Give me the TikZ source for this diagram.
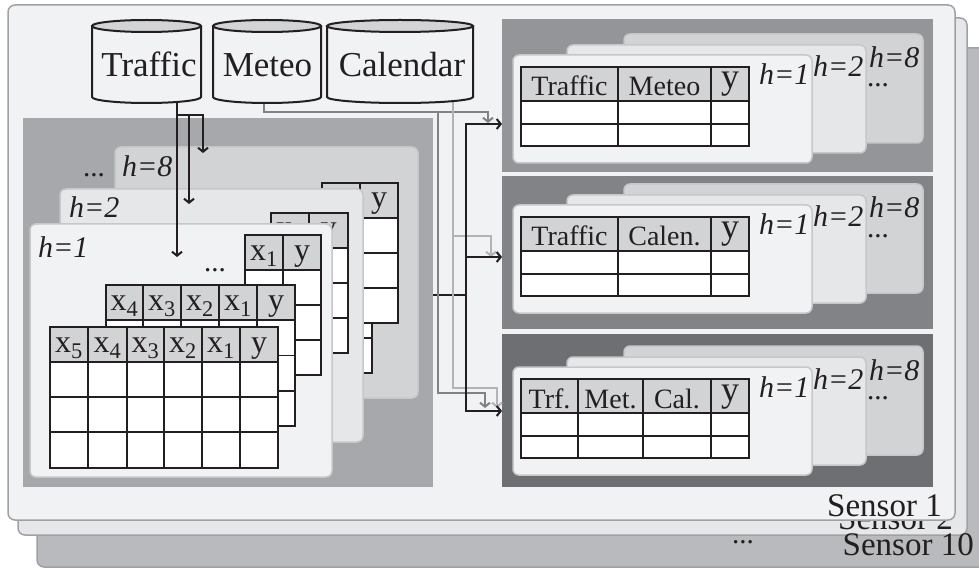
\documentclass[tikz,border=0pt]{standalone}
\usepackage{fontspec}
\setmainfont{Liberation Serif}
\usetikzlibrary{arrows.meta}
\definecolor{ink}{HTML}{231F20}
\definecolor{bgone}{HTML}{F1F2F4}
\definecolor{bgtwo}{HTML}{E6E7E9}
\definecolor{bgten}{HTML}{B9BABD}
\definecolor{sensline}{HTML}{A0A1A4}
\definecolor{lregcol}{HTML}{A7A8AB}
\definecolor{cardeight}{HTML}{D2D3D5}
\definecolor{cardline}{HTML}{C6C7C9}
\definecolor{hdrcol}{HTML}{D2D3D5}
\definecolor{pone}{HTML}{939598}
\definecolor{ptwo}{HTML}{828386}
\definecolor{pthree}{HTML}{6E6F72}
\definecolor{metcol}{HTML}{808285}
\definecolor{calcol}{HTML}{B1B3B6}

\def\toff{0}
\def\tboff{10}
% table: #1 name, #2 left, #3 right, #4 top, #5 header bottom, #6 bottom, #7 row lines, #8 column lines, #9 cx/label
\newcommand\tabl[9]{%
  \fill[white] (#2,{#4+\toff}) rectangle (#3,{#6+\toff});
  \fill[hdrcol] (#2,{#4+\toff}) rectangle (#3,{#5+\toff});
  \foreach \yy in {#7} {\draw[tabline] (#2,{\yy+\toff}) -- (#3,{\yy+\toff});}
  \foreach \xx in {#8} {\draw[tabline] (\xx,{#4+\toff}) -- (\xx,{#6+\toff});}
  \draw[tabline] (#2,{#5+\toff}) -- (#3,{#5+\toff});
  \draw[tabline] (#2,{#4+\toff}) rectangle (#3,{#6+\toff});
  \foreach \cx/\tx [count=\ci] in {#9} {\node[cellfont, anchor=base, inner sep=0pt] (#1-\ci) at (\cx,{#5-\tboff+\toff}) {\tx};}
}
% right panel: #1 name, #2 top, #3 fill, #4 offset, #5 column lines, #6 labels
\newcommand\rpanel[6]{%
  \node[panelbox, fill=#3, anchor=north west] (#1) at (502,#2) {};
  \def\toff{#4}%
  \draw[card, fill=cardeight] (624,{#4+34}) rectangle (923,{#4+143});
  \draw[card, fill=bgtwo] (567,{#4+45}) rectangle (866,{#4+153});
  \draw[card, fill=bgone] (513,{#4+55}) rectangle (812,{#4+163});
  \tabl{#1t}{521}{749}{67}{101}{146}{124}{#5}{#6}%
  \node[hlab] (#1h1) at (759,{#4+85}) {h=1};
  \node[hlab] (#1h2) at (813,{#4+77}) {h=2};
  \node[hlab] (#1h8) at (869,{#4+68}) {h=8};
  \node[dotlab] (#1dots) at (867,{#4+87}) {...};
}
% cylinder: #1 name, #2 left, #3 right, #4 text, #5 text x
\newcommand\cyl[5]{%
  \pgfmathsetmacro\crx{(#3-#2)/2}%
  \pgfmathsetmacro\ccx{(#3+#2)/2}%
  \path[fill=bgone] (#2,26) -- (#2,97) arc[start angle=180, end angle=360, x radius=\crx pt, y radius=6pt] -- (#3,26) arc[start angle=0, end angle=180, x radius=\crx pt, y radius=6pt] -- cycle;
  \draw[cylline] (#2,26) -- (#2,97) arc[start angle=180, end angle=360, x radius=\crx pt, y radius=6pt] -- (#3,26);
  \draw[cylline, fill=hdrcol] (\ccx,26) ellipse[x radius=\crx pt, y radius=6pt];
  \node[cyltext] (#1) at (#5,77) {#4};
}

\begin{document}
\begin{tikzpicture}[x=1pt, y=-1pt,
  every node/.append style={text=ink},
  blk/.style={draw=ink, line width=2pt},
  met/.style={draw=metcol, line width=2pt},
  cal/.style={draw=calcol, line width=2pt},
  tip/.style={-{Straight Barb[length=4pt,width=10pt]}},
  tipboth/.style={{Straight Barb[length=4pt,width=10pt]}-{Straight Barb[length=4pt,width=10pt]}},
  tabline/.style={draw=ink, line width=1.8pt},
  card/.style={draw=cardline, line width=1.5pt, rounded corners=6pt},
  sensbox/.style={draw=sensline, line width=1.5pt, rounded corners=7pt},
  panelbox/.style={minimum width=431pt, minimum height=153pt, inner sep=0pt, outer sep=0pt},
  lregbox/.style={fill=lregcol, minimum width=410pt, minimum height=369pt, inner sep=0pt, outer sep=0pt},
  hlab/.style={anchor=base west, inner sep=0pt, font=\fontsize{30}{32}\selectfont\itshape},
  dotlab/.style={anchor=base west, inner sep=0pt, font=\fontsize{29}{31}\selectfont},
  sens/.style={anchor=base east, inner sep=0pt, font=\fontsize{33}{35}\selectfont},
  cyltext/.style={anchor=base, inner sep=0pt, font=\fontsize{35}{37}\selectfont},
  cylline/.style={draw=ink, line width=2pt},
  cellfont/.style={font=\fontsize{32}{34}\selectfont}
]
\useasboundingbox (0,0) rectangle (979,569);
\clip (0,0) rectangle (979,569);

% sensor stack
\draw[sensbox, fill=bgten] (37,48) rectangle (1000,567);
\draw[sensbox, fill=bgtwo] (18,18) rectangle (967,535);
\node[sens] (s2) at (953,529) {Sensor 2};
\draw[sensbox, fill=bgone] (8,5) rectangle (955,520);
\node[sens] (s1) at (942,516) {Sensor 1};
\node[sens] (s10) at (974,555) {Sensor 10};
\node[dotlab] (sdots) at (732,543) {...};

% left block
\node[lregbox, anchor=north west] (lreg) at (23,118) {};
\draw[card, fill=cardeight] (115,147) rectangle (418,398);
\tabl{e2}{296}{372}{233}{268}{373}{303,338}{334}{315/x\textsubscript{1},353/y}
\tabl{e1}{322}{398}{183}{218}{323}{253,288}{360}{341/x\textsubscript{1},379/y}
\draw[card, fill=bgtwo] (60,189) rectangle (363,442);
\tabl{d1}{271}{348}{213}{248}{353}{283,318}{309}{290/x\textsubscript{1},328.5/y}
\draw[card, fill=bgone] (30,224) rectangle (332,477);
\tabl{c1}{245}{321}{235}{270}{375}{305,340}{283}{264/x\textsubscript{1},302/y}
\node[dotlab] (cdots) at (204,272) {...};
\tabl{c2}{106}{295}{285}{320}{426}{355.5,391}{143,181,219,257}{124.5/x\textsubscript{4},162/x\textsubscript{3},200/x\textsubscript{2},238/x\textsubscript{1},276/y}
\tabl{c3}{50}{278}{327}{362}{468}{397,432}{88,127,164,202,240}{69/x\textsubscript{5},107.5/x\textsubscript{4},145.5/x\textsubscript{3},183/x\textsubscript{2},221/x\textsubscript{1},259/y}
\node[hlab] (lh8) at (122,177) {h=8};
\node[dotlab] (ldots) at (83,177) {...};
\node[hlab] (lh2) at (69,218) {h=2};
\node[hlab] (lh1) at (38,258) {h=1};

% right panels
\tikzset{cellfont/.style={font=\fontsize{28}{30}\selectfont}}
\def\tboff{5}
\rpanel{p1}{19}{pone}{0}{618,711}{569.5/Traffic,664.5/Meteo,730/\raisebox{7pt}{\fontsize{36}{36}\selectfont y}}
\rpanel{p2}{176}{ptwo}{150}{618,711}{569.5/Traffic,664.5/Calen.,730/\raisebox{7pt}{\fontsize{36}{36}\selectfont y}}
\rpanel{p3}{334}{pthree}{312}{578,643,711}{549.5/Trf.,610.5/Met.,677/Cal.,730/\raisebox{7pt}{\fontsize{36}{36}\selectfont y}}
\def\toff{0}

% connector coordinates
\coordinate (tfb) at (177,95);
\coordinate (tfs) at (177,115);
\coordinate (tfr) at (203,115);
\coordinate (a8) at (203,153);
\coordinate (a2) at (189,204);
\coordinate (a1) at (177,257);
\coordinate (bus) at (466,295);
\coordinate (bustop) at (466,124);
\coordinate (busmid) at (466,257);
\coordinate (busbot) at (466,411);
\coordinate (mtb) at (264,95);
\coordinate (mtk) at (264,112);
\coordinate (mtsplit) at (438,112);
\coordinate (mt1) at (488,112);
\coordinate (mta1) at (488,123);
\coordinate (mtl) at (438,393);
\coordinate (mt3) at (485,393);
\coordinate (mta3) at (485,408);
\coordinate (clb) at (453,95);
\coordinate (clsplit) at (453,236);
\coordinate (cl2) at (491,236);
\coordinate (cla2) at (491,257);
\coordinate (cll) at (453,388);
\coordinate (cl3) at (497,388);
\coordinate (cla3) at (497,408);

% traffic into the left block
\draw[blk, tip] (tfb) -- (a1);
\draw[blk, tip] (tfs) -- (tfr) -- (a8);
\draw[blk, tip] (tfs -| a2) -- (a2);

% to the right panels
\draw[blk] (lreg.east |- bus) -- (bus);
\draw[met, tip] (mtb) -- (mtk) -- (mt1) -- (mta1);
\draw[met, tip] (mtsplit) -- (mtl) -- (mt3) -- (mta3);
\draw[cal, tip] (clb) -- (cll) -- (cl3) -- (cla3);
\draw[cal, tip] (clsplit) -- (cl2) -- (cla2);
\draw[blk, tipboth] (p1.west |- bustop) -- (bustop) -- (busbot) -- (p3.west |- busbot);
\draw[blk, tip] (busmid) -- (p2.west |- busmid);

% data sources
\cyl{traffic}{92}{201}{Traffic}{149}
\cyl{meteo}{213}{321}{Meteo}{267.5}
\cyl{calendar}{327}{473}{Calendar}{402}
\end{tikzpicture}
\end{document}
